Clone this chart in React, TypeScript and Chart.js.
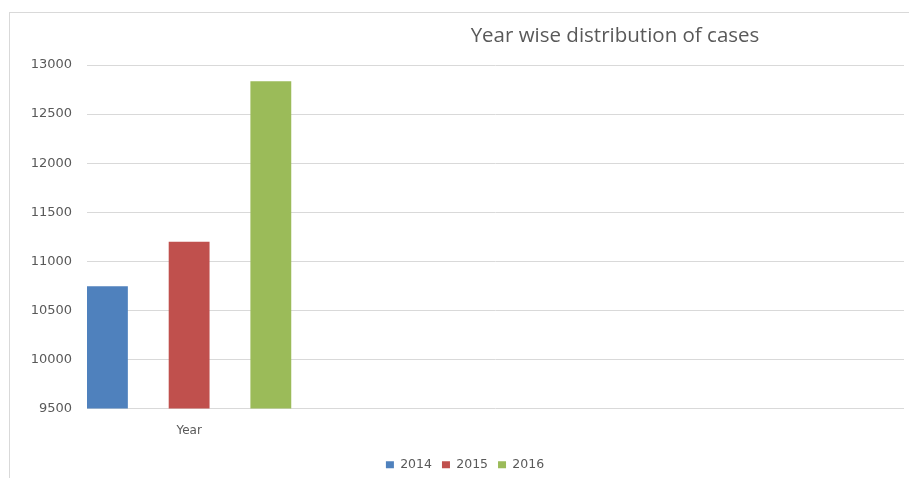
import React, { useEffect, useRef } from "react";
import { Chart, registerables } from "chart.js";

Chart.register(...registerables);

const categories = ["Year", "", "", ""];
const seriesNames = ["2014", "2015", "2016"];
const values2014 = [10745];
const values2015 = [11200];
const values2016 = [12835];
const seriesColors = ["#4F81BD", "#C0504D", "#9BBB59"];
const yMin = 9500;
const yMax = 13000;
const yStep = 500;
const titleText = "Year wise distribution of cases";

export default function App() {
  const ref = useRef<HTMLCanvasElement | null>(null);

  useEffect(() => {
    if (!ref.current) return;
    const seriesValues = [values2014, values2015, values2016];
    const chart = new Chart(ref.current, {
      type: "bar",
      data: {
        labels: categories,
        datasets: seriesNames.map((name, i) => ({
          label: name,
          data: seriesValues[i],
          backgroundColor: seriesColors[i],
          borderWidth: 0,
          categoryPercentage: 1.2,
          barPercentage: 0.5,
        })),
      },
      options: {
        animation: false,
        responsive: false,
        maintainAspectRatio: false,
        layout: { padding: { left: 26, right: 5, top: 65, bottom: 0 } },
        plugins: {
          title: { display: false },
          tooltip: { enabled: false },
          legend: {
            position: "bottom",
            labels: {
              boxWidth: 8,
              boxHeight: 7,
              padding: 10,
              color: "#595959",
              font: { family: "DejaVu Sans", size: 12.5 },
            },
          },
        },
        scales: {
          x: {
            grid: { display: false, drawTicks: false },
            border: { display: false },
            ticks: {
              color: "#595959",
              font: { family: "DejaVu Sans", size: 12 },
              padding: 15,
              maxRotation: 0,
            },
            afterFit: (scale: any) => {
              scale.height = 40;
            },
          },
          y: {
            min: yMin,
            max: yMax,
            grid: { color: "#d9d9d9", lineWidth: 1, drawTicks: false },
            border: { display: false },
            ticks: {
              stepSize: yStep,
              color: "#595959",
              font: { family: "DejaVu Sans", size: 13 },
              padding: 15,
              callback: (v: any) => String(v),
            },
            afterFit: (scale: any) => {
              scale.width = 61;
            },
          },
        },
      },
    });
    return () => chart.destroy();
  }, []);

  return (
    <div style={{ position: "fixed", left: 0, top: 0, width: 909, height: 478, background: "#fff", overflow: "hidden" }}>
      <div
        style={{
          position: "absolute",
          left: 9,
          top: 12,
          width: 900,
          height: 466,
          borderLeft: "1px solid #d9d9d9",
          borderTop: "1px solid #d9d9d9",
        }}
      />
      <canvas ref={ref} width={909} height={481} style={{ position: "absolute", left: 0, top: 0, width: 909, height: 481 }} />
      <div
        style={{
          position: "absolute",
          left: 615,
          top: 22,
          transform: "translateX(-50%)",
          whiteSpace: "nowrap",
          fontFamily: "'Open Sans'",
          fontSize: 20.5,
          lineHeight: "24px",
          color: "#595959",
        }}
      >
        {titleText}
      </div>
    </div>
  );
}
